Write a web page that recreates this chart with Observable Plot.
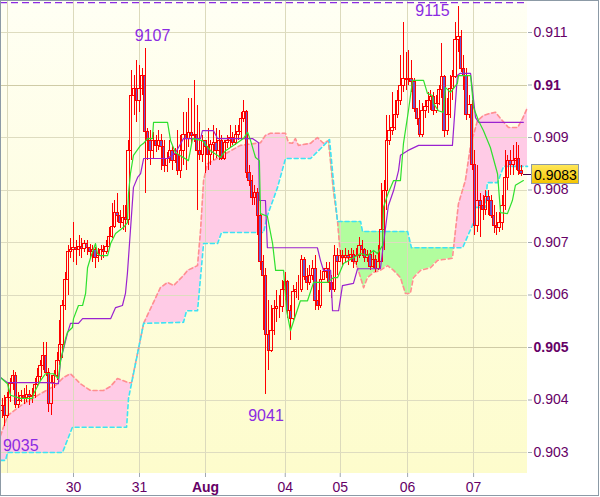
<!DOCTYPE html>
<html><head><meta charset="utf-8">
<script src="https://cdn.jsdelivr.net/npm/d3@7"></script>
<script src="https://cdn.jsdelivr.net/npm/@observablehq/plot@0.6"></script>
<style>body{margin:0;background:#fff}</style>
</head><body><div id="chart"></div>
<script>
// ---- candles (hourly bars, index 0..189) ----
const open = [
0.90380,0.90389,0.90370,0.90403,0.90431,0.90445,0.90391,0.90399,0.90407,0.90403,
0.90409,0.90405,0.90407,0.90429,0.90443,0.90464,0.90483,0.90452,0.90393,0.90433,
0.90445,0.90475,0.90504,0.90580,0.90628,0.90681,0.90685,0.90689,0.90685,0.90692,
0.90687,0.90698,0.90689,0.90681,0.90685,0.90671,0.90675,0.90685,0.90681,0.90692,
0.90711,0.90730,0.90757,0.90750,0.90738,0.90746,0.90742,0.90875,0.90980,0.90993,
0.90970,0.90993,0.91018,0.90910,0.90894,0.90875,0.90894,0.90883,0.90894,0.90881,
0.90845,0.90860,0.90875,0.90856,0.90866,0.90837,0.90875,0.90904,0.90898,0.90908,
0.90902,0.90904,0.90875,0.90866,0.90894,0.90881,0.90866,0.90885,0.90890,0.90875,
0.90894,0.90860,0.90890,0.90894,0.90900,0.90890,0.90904,0.90910,0.90936,0.90948,
0.90833,0.90818,0.90784,0.90795,0.90751,0.90662,0.90637,0.90523,0.90494,0.90532,
0.90574,0.90578,0.90578,0.90609,0.90624,0.90570,0.90555,0.90605,0.90609,0.90609,
0.90666,0.90635,0.90622,0.90637,0.90650,0.90589,0.90580,0.90628,0.90643,0.90650,
0.90622,0.90609,0.90675,0.90662,0.90675,0.90671,0.90675,0.90670,0.90677,0.90662,
0.90675,0.90694,0.90685,0.90670,0.90677,0.90654,0.90666,0.90650,0.90662,0.90723,
0.90799,0.90894,0.90913,0.90919,0.90942,0.90970,0.90999,0.91012,0.91009,0.91012,
0.91005,0.90955,0.90936,0.90904,0.90951,0.90959,0.90970,0.90978,0.90951,0.90963,
0.90990,0.91016,0.90913,0.90942,0.90993,0.91016,0.91085,0.91091,0.91031,0.91018,
0.90942,0.90961,0.90847,0.90732,0.90780,0.90770,0.90761,0.90786,0.90780,0.90751,
0.90732,0.90727,0.90738,0.90770,0.90822,0.90856,0.90847,0.90856,0.90860,0.90837];
const high = [
0.90403,0.90409,0.90414,0.90441,0.90456,0.90452,0.90414,0.90418,0.90422,0.90428,
0.90418,0.90422,0.90441,0.90460,0.90475,0.90509,0.90509,0.90460,0.90447,0.90456,
0.90490,0.90551,0.90589,0.90643,0.90694,0.90708,0.90738,0.90704,0.90713,0.90708,
0.90704,0.90704,0.90696,0.90694,0.90690,0.90689,0.90694,0.90694,0.90704,0.90729,
0.90774,0.90780,0.90793,0.90761,0.90770,0.90770,0.90894,0.91028,0.91018,0.91047,
0.91037,0.91031,0.91070,0.90917,0.90913,0.90910,0.90904,0.90913,0.90906,0.90894,
0.90871,0.90894,0.90885,0.90879,0.90913,0.90904,0.90948,0.90948,0.90974,0.90974,
0.91009,0.90961,0.90929,0.90904,0.90894,0.90917,0.90894,0.90923,0.90917,0.90913,
0.90904,0.90894,0.90904,0.90923,0.90910,0.90923,0.90923,0.90948,0.90970,0.90951,
0.90847,0.90828,0.90809,0.90803,0.90780,0.90675,0.90650,0.90589,0.90580,0.90589,
0.90609,0.90599,0.90628,0.90643,0.90628,0.90580,0.90618,0.90624,0.90637,0.90675,
0.90671,0.90650,0.90656,0.90666,0.90675,0.90609,0.90647,0.90650,0.90662,0.90662,
0.90637,0.90694,0.90689,0.90685,0.90685,0.90689,0.90685,0.90689,0.90685,0.90689,
0.90710,0.90704,0.90689,0.90685,0.90685,0.90681,0.90675,0.90694,0.90812,0.90818,
0.90942,0.90942,0.90986,0.90970,0.90990,0.91056,0.91119,0.91062,0.91066,0.91047,
0.91012,0.90955,0.90970,0.90965,0.90970,0.90986,0.90990,0.90986,0.90980,0.90999,
0.91079,0.91018,0.90974,0.91018,0.91028,0.91119,0.91150,0.91104,0.91056,0.91031,
0.90980,0.90970,0.90875,0.90847,0.90793,0.90790,0.90799,0.90799,0.90790,0.90770,
0.90757,0.90757,0.90790,0.90875,0.90866,0.90875,0.90885,0.90890,0.90885,0.90847];
const low = [
0.90365,0.90350,0.90365,0.90395,0.90418,0.90384,0.90384,0.90395,0.90391,0.90395,
0.90389,0.90393,0.90403,0.90426,0.90437,0.90456,0.90445,0.90376,0.90370,0.90422,
0.90437,0.90466,0.90479,0.90570,0.90599,0.90670,0.90662,0.90656,0.90673,0.90670,
0.90681,0.90675,0.90670,0.90662,0.90650,0.90662,0.90666,0.90670,0.90677,0.90689,
0.90708,0.90727,0.90738,0.90727,0.90723,0.90719,0.90732,0.90856,0.90942,0.90929,
0.90948,0.90980,0.90793,0.90856,0.90847,0.90860,0.90871,0.90875,0.90837,0.90833,
0.90833,0.90850,0.90837,0.90850,0.90828,0.90822,0.90847,0.90837,0.90881,0.90885,
0.90890,0.90761,0.90856,0.90852,0.90831,0.90837,0.90847,0.90856,0.90860,0.90856,
0.90856,0.90856,0.90879,0.90879,0.90885,0.90885,0.90894,0.90894,0.90929,0.90822,
0.90807,0.90770,0.90770,0.90713,0.90647,0.90532,0.90410,0.90456,0.90490,0.90523,
0.90548,0.90555,0.90567,0.90589,0.90555,0.90513,0.90551,0.90593,0.90589,0.90605,
0.90628,0.90609,0.90618,0.90628,0.90570,0.90570,0.90574,0.90628,0.90631,0.90605,
0.90593,0.90605,0.90637,0.90662,0.90656,0.90662,0.90656,0.90662,0.90650,0.90656,
0.90670,0.90673,0.90662,0.90662,0.90647,0.90650,0.90643,0.90647,0.90662,0.90685,
0.90761,0.90885,0.90904,0.90913,0.90936,0.90961,0.90986,0.90990,0.90999,0.90986,
0.90948,0.90923,0.90900,0.90900,0.90936,0.90946,0.90951,0.90942,0.90946,0.90961,
0.90974,0.90900,0.90904,0.90936,0.90970,0.91012,0.91062,0.91024,0.90990,0.90932,
0.90936,0.90837,0.90713,0.90719,0.90710,0.90742,0.90751,0.90751,0.90746,0.90717,
0.90713,0.90719,0.90723,0.90761,0.90799,0.90828,0.90828,0.90837,0.90828,0.90826];
const close = [
0.90389,0.90370,0.90403,0.90431,0.90445,0.90391,0.90399,0.90407,0.90403,0.90409,
0.90405,0.90407,0.90429,0.90443,0.90464,0.90483,0.90452,0.90393,0.90433,0.90445,
0.90475,0.90504,0.90580,0.90628,0.90681,0.90685,0.90689,0.90685,0.90692,0.90687,
0.90698,0.90689,0.90681,0.90685,0.90671,0.90675,0.90685,0.90681,0.90692,0.90711,
0.90730,0.90757,0.90750,0.90738,0.90746,0.90742,0.90875,0.90980,0.90993,0.90970,
0.90993,0.91018,0.90910,0.90894,0.90875,0.90894,0.90883,0.90894,0.90881,0.90845,
0.90860,0.90875,0.90856,0.90866,0.90837,0.90875,0.90904,0.90898,0.90908,0.90902,
0.90904,0.90875,0.90866,0.90894,0.90881,0.90866,0.90885,0.90890,0.90875,0.90894,
0.90860,0.90890,0.90894,0.90900,0.90890,0.90904,0.90910,0.90936,0.90948,0.90833,
0.90818,0.90784,0.90795,0.90751,0.90662,0.90637,0.90523,0.90494,0.90532,0.90574,
0.90578,0.90578,0.90609,0.90624,0.90570,0.90555,0.90605,0.90609,0.90609,0.90666,
0.90635,0.90622,0.90637,0.90650,0.90589,0.90580,0.90628,0.90643,0.90650,0.90622,
0.90609,0.90675,0.90662,0.90675,0.90671,0.90675,0.90670,0.90677,0.90662,0.90675,
0.90694,0.90685,0.90670,0.90677,0.90654,0.90666,0.90650,0.90662,0.90723,0.90799,
0.90894,0.90913,0.90919,0.90942,0.90970,0.90999,0.91012,0.91009,0.91012,0.91005,
0.90955,0.90936,0.90904,0.90951,0.90959,0.90970,0.90978,0.90951,0.90963,0.90990,
0.91016,0.90913,0.90942,0.90993,0.91016,0.91085,0.91091,0.91031,0.91018,0.90942,
0.90961,0.90847,0.90732,0.90780,0.90770,0.90761,0.90786,0.90780,0.90751,0.90732,
0.90727,0.90738,0.90770,0.90822,0.90856,0.90847,0.90856,0.90860,0.90837,0.90830];

// ---- Ichimoku lines (bar position, value) ----
const tenkanBar = [-0.55,2,3.1,6.7,11.1,11.5,14,15.8,18.7,20.5,21.3,23.1,23.8,25.6,26,27.8,29.3,30.4,31.1,32.2,34,34.7,35.8,38.4,39.5,41.3,44.2,45.6,46,46.7,47.8,50.4,51.5,52.9,54.7,55.1,60.2,61.3,63.1,67.8,69.3,72.9,75.8,79.5,81.3,85.6,87.8,89.3,90.4,92.2,93.6,94,96.5,98.4,99.5,102.4,103.5,104.9,108.5,111.1,113.3,118.4,120.5,122,124.2,130.4,132.9,135.1,136.5,138.4,138.7,140.5,142.4,144.9,146,147.8,149.3,153.3,154.7,156.5,156.9,158.7,160.5,161.3,163.1,165.6,166,170.4,171.5,173.3,175.1,177.6,180.2,181.3,183.8,185.6,186.7,189.6];
const tenkanVal = [0.90443,0.90431,0.90409,0.90403,0.90403,0.90412,0.90437,0.90450,0.90450,0.90441,0.90475,0.90517,0.90529,0.90538,0.90555,0.90580,0.90580,0.90603,0.90652,0.90671,0.90698,0.90679,0.90675,0.90675,0.90698,0.90717,0.90729,0.90738,0.90793,0.90831,0.90866,0.90885,0.90889,0.90898,0.90898,0.90929,0.90929,0.90894,0.90871,0.90856,0.90898,0.90894,0.90875,0.90862,0.90875,0.90890,0.90898,0.90910,0.90894,0.90862,0.90856,0.90755,0.90750,0.90698,0.90647,0.90647,0.90570,0.90532,0.90589,0.90589,0.90624,0.90624,0.90633,0.90633,0.90660,0.90679,0.90675,0.90685,0.90679,0.90694,0.90767,0.90795,0.90818,0.90818,0.90889,0.90951,0.91009,0.91009,0.90984,0.90980,0.90965,0.90951,0.90948,0.90995,0.90986,0.91003,0.91018,0.91018,0.90957,0.90932,0.90913,0.90881,0.90831,0.90757,0.90755,0.90780,0.90809,0.90818];
const kijunBar = [-0.55,2,16.5,20.5,21.3,23.8,24.9,27.8,29.3,39.5,41.3,43.8,44.9,45.6,47.8,49.3,50.4,51.5,60.2,63.1,66,72.2,72.9,76.9,78.4,91.1,93.3,93.6,95.8,96.5,114.7,115.8,116.9,119.5,120.2,122.4,123.8,127.8,129.3,137.6,139.1,140.5,142.4,144.2,144.9,147.5,151.5,163.8,165.6,166.5,170.4,172.2,173.3,189.6];
const kijunVal = [0.90443,0.90433,0.90433,0.90431,0.90475,0.90527,0.90546,0.90546,0.90555,0.90555,0.90576,0.90580,0.90603,0.90641,0.90805,0.90824,0.90831,0.90860,0.90860,0.90871,0.90898,0.90898,0.90913,0.90913,0.90898,0.90898,0.90890,0.90780,0.90780,0.90690,0.90690,0.90666,0.90647,0.90647,0.90570,0.90570,0.90618,0.90622,0.90650,0.90650,0.90713,0.90770,0.90799,0.90837,0.90866,0.90875,0.90885,0.90885,0.91018,0.91022,0.91022,0.90938,0.90929,0.90929];
const spanABar = [-0.55,2,6.7,14,19.5,22.4,24.9,28.5,32.2,36.9,39.5,42,46,47.1,49.3,51.5,57.6,60.2,62.4,66,67.5,71.1,72.2,73.3,74.7,86.7,94,95.8,97.6,103.1,104.2,105.6,106.7,107.8,112.2,114.7,116.9,118.7,120.5,122,123.1,125.6,127.8,129.3,131.5,132.9,135.1,137.6,140.2,142.4,144.9,146.7,148.5,149.6,152.2,155.8,158.4,163.8,164.9,166,168.5,170.4,172.9,175.1,177.6,179.5,181.3,184.2,187.5,189.3,191.1];
const spanAVal = [0.90332,0.90370,0.90389,0.90412,0.90428,0.90443,0.90450,0.90431,0.90418,0.90418,0.90426,0.90441,0.90433,0.90433,0.90489,0.90546,0.90614,0.90624,0.90618,0.90637,0.90647,0.90656,0.90723,0.90818,0.90850,0.90885,0.90890,0.90904,0.90908,0.90908,0.90890,0.90889,0.90898,0.90885,0.90889,0.90900,0.90889,0.90894,0.90799,0.90742,0.90671,0.90671,0.90666,0.90652,0.90614,0.90633,0.90643,0.90647,0.90656,0.90647,0.90633,0.90603,0.90603,0.90633,0.90647,0.90652,0.90666,0.90670,0.90723,0.90774,0.90818,0.90885,0.90932,0.90942,0.90946,0.90948,0.90936,0.90919,0.90919,0.90936,0.90957];
const spanBBar = [-0.55,1.3,2,22,25.6,45.3,46,51.5,66,67.1,71.1,73.3,78.4,79.8,95.1,96.5,100.2,103.1,112.2,115.1,119.1,120.5,122,130.4,131.1,147.5,148.9,167.5,171.5,172.2,175.8,176.5,180.2,182.4,191.1];
const spanBVal = [0.90285,0.90285,0.90300,0.90300,0.90348,0.90348,0.90403,0.90546,0.90548,0.90570,0.90570,0.90698,0.90698,0.90719,0.90719,0.90751,0.90805,0.90860,0.90860,0.90875,0.90896,0.90818,0.90740,0.90740,0.90721,0.90721,0.90690,0.90690,0.90738,0.90767,0.90767,0.90814,0.90814,0.90845,0.90845];

// ---- axes / annotations ----
const xTickBars = [26, 50, 74, 103, 123, 147.5, 171.5];
const xTickLabels = ["30", "31", "Aug", "04", "05", "06", "07"];
const xGridBars = [2, 26, 50, 74, 103, 123, 147.5, 171.5];
const yTicks = [0.903, 0.904, 0.905, 0.906, 0.907, 0.908, 0.909, 0.910, 0.911];
const yBoldTicks = [0.905, 0.910];
const topLevel = [0.91157];

const bars = close.map((c, i) => ({i, open: open[i], high: high[i], low: low[i], close: c}));
const pts = (bx, vals) => bx.map((b, k) => ({b, v: vals[k]}));
const tenkan = pts(tenkanBar, tenkanVal), kijun = pts(kijunBar, kijunVal);
const spanA = pts(spanABar, spanAVal), spanB = pts(spanBBar, spanBVal);
const ext = [
  {i: 52, p: high[52]}, {i: 166, p: high[166]}, {i: 96, p: low[96]}, {i: 1, p: low[1]}
];
const extLabel = d => String(Math.round(d.p * 1e4));
const fmtY = d3.format(".3~f");
const xLab = b => xTickLabels[xTickBars.indexOf(b)];
const PURPLE_TXT = "#660066";
const FONT = "'Liberation Sans', Arial, sans-serif";

function background(index, scales, values, dims) {
  const g = d3.create("svg:g");
  const lg = g.append("defs").append("linearGradient").attr("id", "bgGrad")
    .attr("x1", 0).attr("y1", 0).attr("x2", 0).attr("y2", 1);
  lg.append("stop").attr("offset", "0%").attr("stop-color", "#fffff4");
  lg.append("stop").attr("offset", "100%").attr("stop-color", "#fdfccc");
  g.append("rect").attr("x", dims.marginLeft).attr("y", dims.marginTop)
    .attr("width", dims.width - dims.marginLeft - dims.marginRight)
    .attr("height", dims.height - dims.marginTop - dims.marginBottom)
    .attr("fill", "url(#bgGrad)");
  return g.node();
}

function cloud(index, {x, y}, values, dims) {
  const top = dims.marginTop, bot = dims.height - dims.marginBottom;
  const A = spanA.map(d => [x(d.b), y(d.v)]);
  const B = spanB.map(d => [x(d.b), y(d.v)]);
  const below = d3.area().x(d => d[0]).y0(bot).y1(d => d[1]);
  const above = d3.area().x(d => d[0]).y0(top).y1(d => d[1]);
  const g = d3.create("svg:g");
  const defs = g.append("defs");
  defs.append("clipPath").attr("id", "clipAboveB").append("path").attr("d", above(B));
  defs.append("clipPath").attr("id", "clipAboveA").append("path").attr("d", above(A));
  g.append("path").attr("d", below(A)).attr("fill", "#ffcbe6").attr("clip-path", "url(#clipAboveB)");
  g.append("path").attr("d", below(B)).attr("fill", "#b2fd9e").attr("clip-path", "url(#clipAboveA)");
  return g.node();
}

function priceBox(index, {y}, values, dims) {
  const last = close[close.length - 1];
  const py = Math.round(y(last)) + 0.5;
  const x0 = dims.width - dims.marginRight;
  const g = d3.create("svg:g");
  const lg = g.append("defs").append("linearGradient").attr("id", "boxGrad")
    .attr("x1", 0).attr("y1", 0).attr("x2", 0).attr("y2", 1);
  lg.append("stop").attr("offset", "0%").attr("stop-color", "#ffe85a");
  lg.append("stop").attr("offset", "100%").attr("stop-color", "#f4c400");
  g.append("line").attr("x1", x0 - 4).attr("x2", x0 + 4).attr("y1", py).attr("y2", py)
    .attr("stroke", "#440044");
  g.append("rect").attr("x", x0 + 4.5).attr("y", py - 10).attr("width", 47).attr("height", 19)
    .attr("fill", "url(#boxGrad)").attr("stroke", "#8c9aa6");
  g.append("text").attr("x", x0 + 7).attr("y", py + 5).attr("font-size", 14)
    .attr("text-anchor", "start")
    .attr("font-family", FONT).attr("fill", "#000").text(d3.format(".4f")(last));
  return g.node();
}

function border(index, scales, values, dims) {
  return d3.create("svg:rect").attr("x", 0.5).attr("y", 0.5)
    .attr("width", dims.width - 2).attr("height", dims.height - 2)
    .attr("fill", "none").attr("stroke", "#8c9aa6").node();
}

const chart = Plot.plot({
  width: 600, height: 497,
  marginLeft: 0, marginRight: 73, marginTop: 0, marginBottom: 24,
  x: {type: "linear", domain: [-0.55, 191.1]},
  y: {type: "linear", domain: [0.9026, 0.91161]},
  style: {fontFamily: FONT, background: "#fff", overflow: "visible"},
  marks: [
    background,
    cloud,
    Plot.ruleX(xGridBars, {stroke: "#dcdabc", shapeRendering: "crispEdges"}),
    Plot.ruleY(yTicks.filter(t => !yBoldTicks.includes(t)), {stroke: "#dedcc0", shapeRendering: "crispEdges"}),
    Plot.ruleY(yBoldTicks, {stroke: "#cfcba6", shapeRendering: "crispEdges"}),
    Plot.line(spanA, {x: "b", y: "v", stroke: "#ff8f8f", strokeWidth: 1.6, strokeDasharray: "4,3"}),
    Plot.line(spanB, {x: "b", y: "v", stroke: "#3ee2f4", strokeWidth: 1.6, strokeDasharray: "4,3"}),
    Plot.ruleX(bars, {x: "i", y1: d => Math.max(d.open, d.close), y2: "high", stroke: "#ff0000", shapeRendering: "crispEdges"}),
    Plot.ruleX(bars, {x: "i", y1: "low", y2: d => Math.min(d.open, d.close), stroke: "#ff0000", shapeRendering: "crispEdges"}),
    Plot.rect(bars, {filter: d => d.close >= d.open, x1: d => d.i - 0.45, x2: d => d.i + 0.45, y1: "open", y2: "close", fill: "none", stroke: "#ff0000", shapeRendering: "crispEdges"}),
    Plot.rect(bars, {filter: d => d.close < d.open, x1: d => d.i - 0.45, x2: d => d.i + 0.45, y1: "open", y2: "close", fill: "#6a5acd", stroke: "#ff0000", shapeRendering: "crispEdges"}),
    Plot.line(kijun, {x: "b", y: "v", stroke: "#9a22d0", strokeWidth: 1.2}),
    Plot.line(tenkan, {x: "b", y: "v", stroke: "#2ee02e", strokeWidth: 1.2}),
    Plot.text([ext[0]], {x: "i", y: "p", text: extLabel, dx: 7.5, dy: -12, fontSize: 16, fill: "#8b2be2"}),
    Plot.text([ext[1]], {x: "i", y: "p", text: extLabel, dx: -26, dy: 5, fontSize: 16, fill: "#8b2be2"}),
    Plot.text([ext[2]], {x: "i", y: "p", text: extLabel, dx: 0, dy: 21, fontSize: 16, fill: "#8b2be2"}),
    Plot.text([ext[3]], {x: "i", y: "p", text: extLabel, dx: 16, dy: 20, fontSize: 16, fill: "#8b2be2"}),
    Plot.ruleY(topLevel, {stroke: "#8b2be2", strokeWidth: 1.3, strokeDasharray: "7,4"}),
    Plot.axisY({anchor: "right", ticks: yTicks.filter(t => !yBoldTicks.includes(t)), tickFormat: fmtY, tickSize: 4, tickPadding: 2, fontSize: 14, color: PURPLE_TXT, stroke: "#a0a8b0", line: true, label: null}),
    Plot.axisY({anchor: "right", ticks: yBoldTicks, tickFormat: fmtY, tickSize: 4, tickPadding: 2, fontSize: 14, fontWeight: "bold", color: PURPLE_TXT, stroke: "#a0a8b0", label: null}),
    Plot.axisX({ticks: xTickBars.filter(b => xLab(b) !== "Aug"), tickFormat: xLab, tickSize: 4, tickPadding: 5, fontSize: 14, color: PURPLE_TXT, stroke: "#a0a8b0", line: true, label: null}),
    Plot.axisX({ticks: xTickBars.filter(b => xLab(b) === "Aug"), tickFormat: xLab, tickSize: 4, tickPadding: 5, fontSize: 14, fontWeight: "bold", color: PURPLE_TXT, stroke: "#a0a8b0", label: null}),
    priceBox,
    border
  ]
});
document.getElementById("chart").append(chart);
</script>
</body></html>
